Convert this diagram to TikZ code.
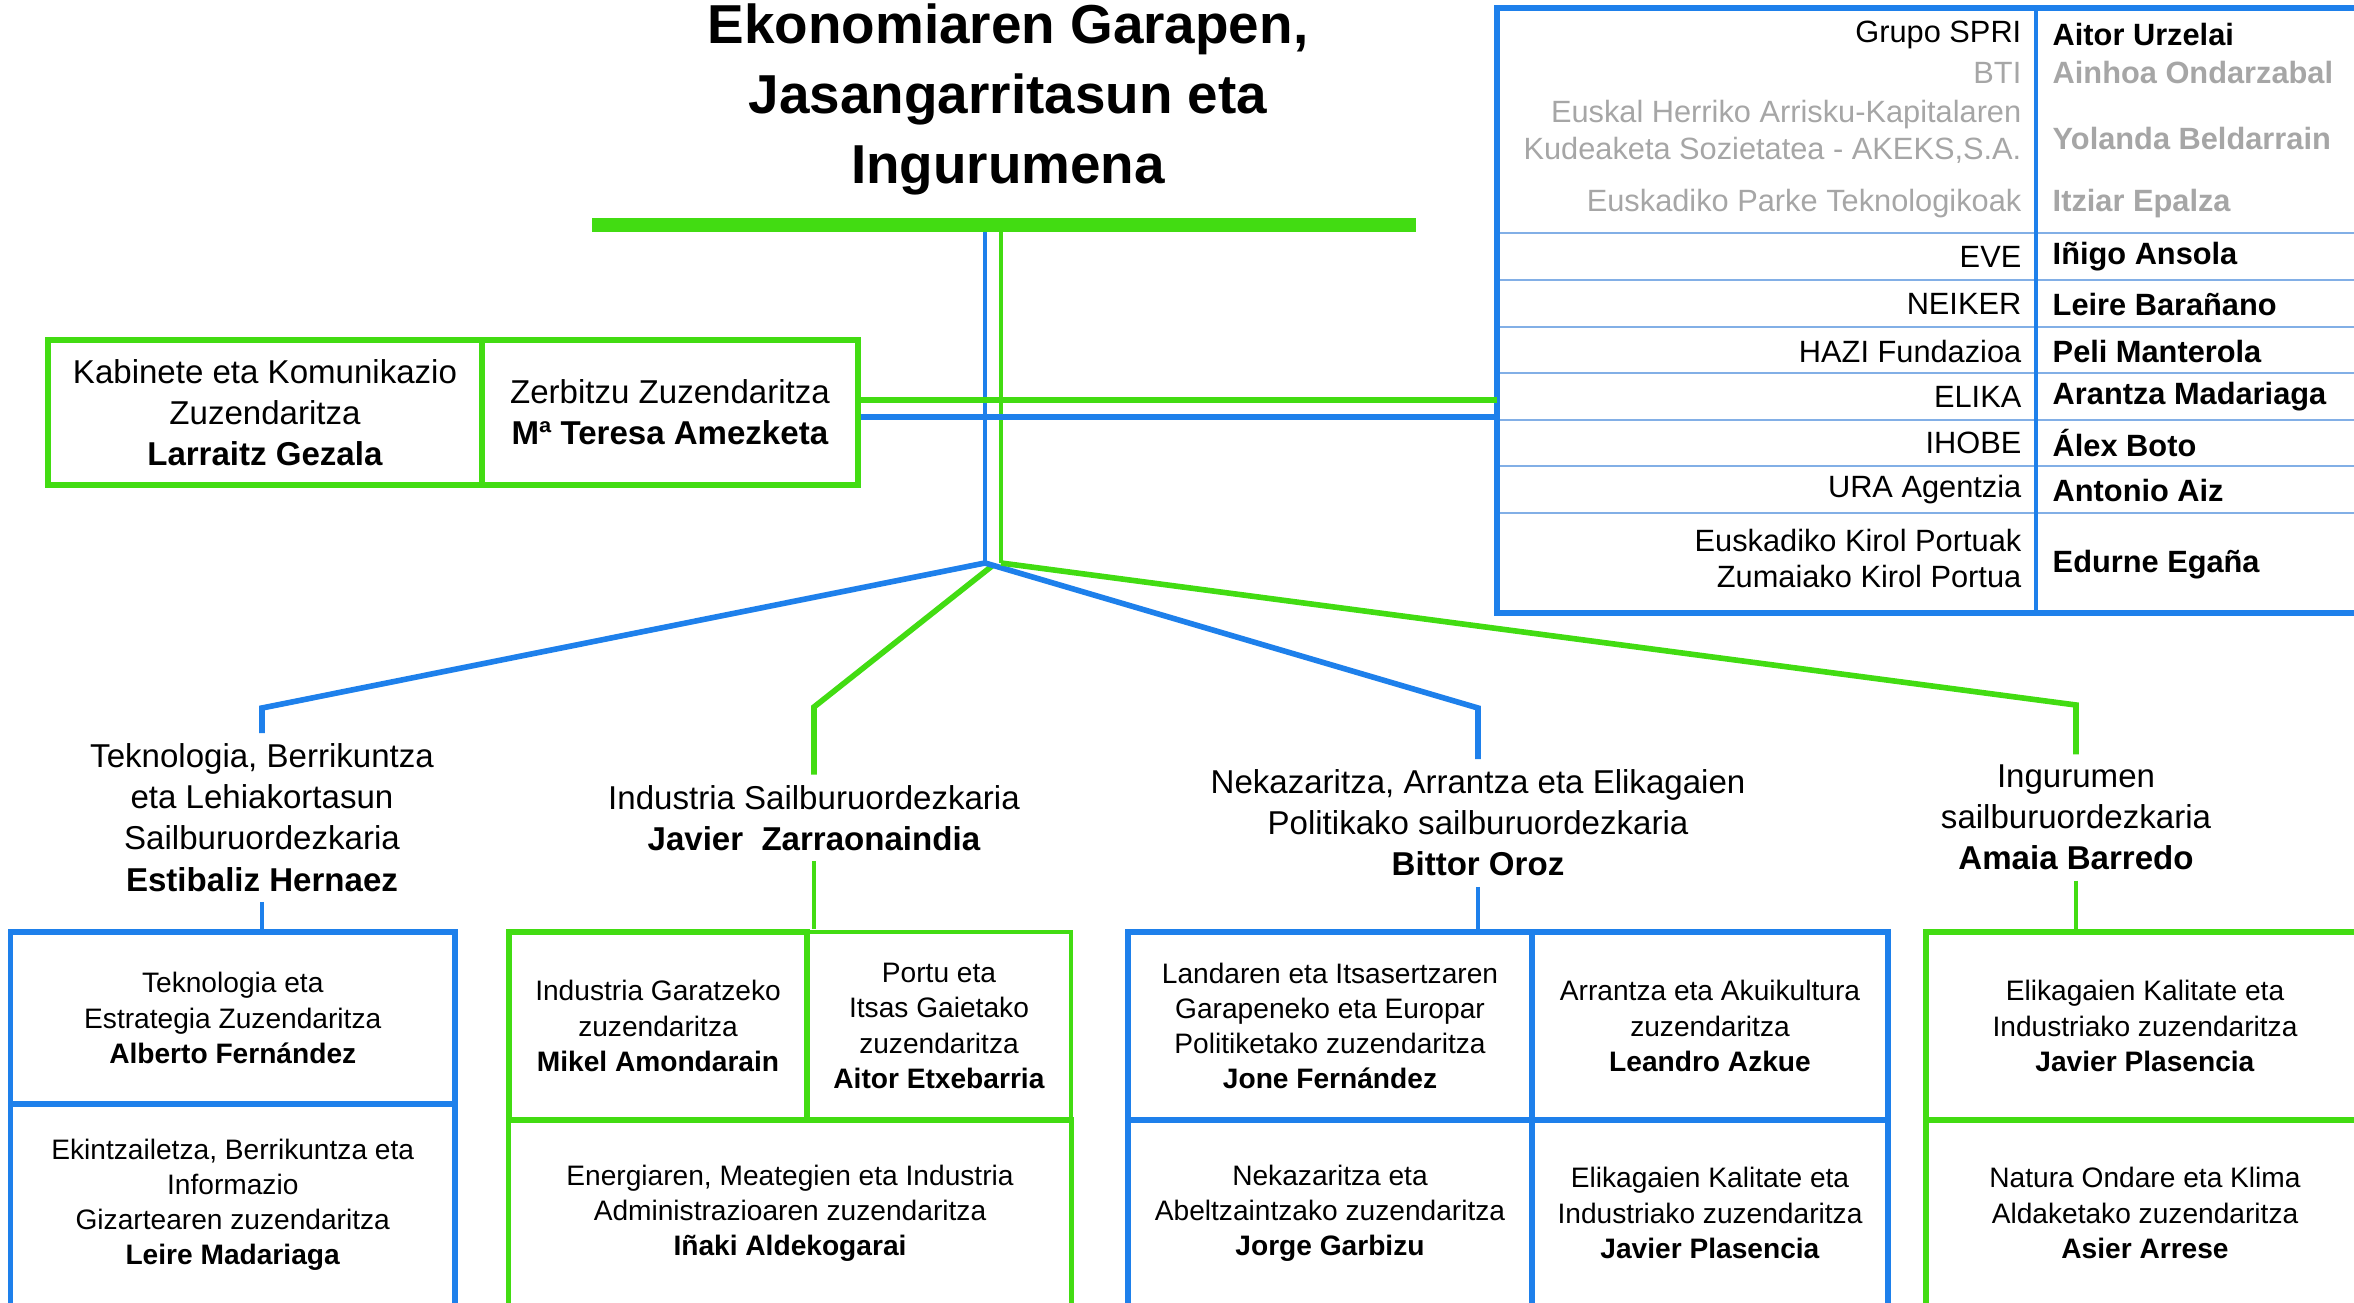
\documentclass[tikz,border=0pt]{standalone}
\usepackage{fontspec}
\setmainfont{Liberation Sans}
\usetikzlibrary{calc}
\definecolor{urdin}{RGB}{30,128,235}
\definecolor{berde}{RGB}{66,220,18}
\definecolor{grisa}{RGB}{166,166,166}
\definecolor{lerro}{RGB}{130,175,230}

\begin{document}
\begin{tikzpicture}[x=0.01cm,y=-0.01cm,
  every node/.style={inner sep=0pt},
  blue line/.style={draw=urdin,line width=1.6pt},
  green line/.style={draw=berde,line width=1.6pt},
  midtext/.style={align=center,font=\fontsize{9.4}{11.7}\selectfont},
  vlabel/.style={midtext,inner ysep=2.8pt},
  taborg/.style={anchor=east,align=right,font=\fontsize{8.75}{10.5}\selectfont},
  tabname/.style={anchor=west,font=\fontsize{8.75}{10.5}\selectfont\bfseries},
  cell/.style={rectangle,align=center,font=\fontsize{8}{10}\selectfont},
  bluecell/.style={cell,draw=urdin,line width=1.5pt},
  greencell/.style={cell,draw=berde,line width=1.5pt}]

\clip (0,0) rectangle (2354,1303);

% title and top bar
\node (title) [align=center,font=\fontsize{15.6}{19.9}\selectfont\bfseries] at (1008,99) {Ekonomiaren Garapen,\\Jasangarritasun eta\\Ingurumena};

\coordinate (barL) at (592,225);
\coordinate (barR) at (1416,225);
\coordinate (jb) at (985,563);
\coordinate (jg) at (1001,563);
\coordinate (jg2) at (992,566);

\draw[blue line,line width=1.4pt] (jb |- barL) -- (jb);
\draw[green line,line width=1.4pt] (jg |- barL) -- (jg);
\draw[berde,line width=3.7pt] (barL) -- (barR);

% cabinet
\node (kabinete) [midtext,draw=berde,line width=1.5pt,minimum width=4.34cm,minimum height=1.45cm] at (265,412.5) {Kabinete eta Komunikazio\\Zuzendaritza\\\textbf{Larraitz Gezala}};
\node (zerbitzu) [midtext,draw=berde,line width=1.5pt,minimum width=3.76cm,minimum height=1.45cm] at (670,412.5) {Zerbitzu Zuzendaritza\\\textbf{Mª Teresa Amezketa}};

% public companies table
\node (tbl) [minimum width=8.82cm,minimum height=6.03cm] at (1939,310.5) {};
\coordinate (col) at (2036,0);
\draw[lerro,line width=0.7pt] (tbl.west |- 0,233) -- (tbl.east |- 0,233);
\draw[lerro,line width=0.7pt] (tbl.west |- 0,280) -- (tbl.east |- 0,280);
\draw[lerro,line width=0.7pt] (tbl.west |- 0,327) -- (tbl.east |- 0,327);
\draw[lerro,line width=0.7pt] (tbl.west |- 0,373) -- (tbl.east |- 0,373);
\draw[lerro,line width=0.7pt] (tbl.west |- 0,420) -- (tbl.east |- 0,420);
\draw[lerro,line width=0.7pt] (tbl.west |- 0,466) -- (tbl.east |- 0,466);
\draw[lerro,line width=0.7pt] (tbl.west |- 0,513) -- (tbl.east |- 0,513);
\draw[urdin,line width=1.1pt] (col |- tbl.north) -- (col |- tbl.south);
\draw[urdin,line width=1.6pt] (tbl.north west) rectangle (tbl.south east);

\node (spri) [taborg] at (2022,35) {Grupo SPRI};
\node (spriN) [tabname] at (2052,35) {Aitor Urzelai};
\node (bti) [taborg,text=grisa] at (2022,73) {BTI};
\node (btiN) [tabname,text=grisa] at (2052,73) {Ainhoa Ondarzabal};
\node (akeks) [taborg,text=grisa] at (2022,131.5) {Euskal Herriko Arrisku-Kapitalaren\\Kudeaketa Sozietatea - AKEKS,S.A.};
\node (akeksN) [tabname,text=grisa] at (2052,138) {Yolanda Beldarrain};
\node (parke) [taborg,text=grisa] at (2022,204) {Euskadiko Parke Teknologikoak};
\node (parkeN) [tabname,text=grisa] at (2052,204) {Itziar Epalza};
\node (eve) [taborg] at (2022,257) {EVE};
\node (eveN) [tabname] at (2052,257) {Iñigo Ansola};
\node (neiker) [taborg] at (2022,304) {NEIKER};
\node (neikerN) [tabname] at (2052,304) {Leire Barañano};
\node (hazi) [taborg] at (2022,351) {HAZI Fundazioa};
\node (haziN) [tabname] at (2052,351) {Peli Manterola};
\node (elika) [taborg] at (2022,397) {ELIKA};
\node (elikaN) [tabname] at (2052,397) {Arantza Madariaga};
\node (ihobe) [taborg] at (2022,443) {IHOBE};
\node (ihobeN) [tabname] at (2052,443) {Álex Boto};
\node (ura) [taborg] at (2022,490) {URA Agentzia};
\node (uraN) [tabname] at (2052,490) {Antonio Aiz};
\node (kirol) [taborg] at (2022,558.5) {Euskadiko Kirol Portuak\\Zumaiako Kirol Portua};
\node (kirolN) [tabname] at (2052,565) {Edurne Egaña};

\coordinate (gL) at ($(zerbitzu.east)+(0,-12.5)$);
\coordinate (bL) at ($(zerbitzu.east)+(0,4.5)$);
\draw[green line] (gL) -- (gL -| tbl.west);
\draw[blue line] (bL) -- (bL -| tbl.west);

% vice-ministries
\node (tek) [vlabel] at (262,817.5) {Teknologia, Berrikuntza\\eta Lehiakortasun\\Sailburuordezkaria\\\textbf{Estibaliz Hernaez}};
\node (ind) [vlabel] at (814,818) {Industria Sailburuordezkaria\\\textbf{Javier\ \ Zarraonaindia}};
\node (nek) [vlabel] at (1478,823) {Nekazaritza, Arrantza eta Elikagaien\\Politikako sailburuordezkaria\\\textbf{Bittor Oroz}};
\node (ing) [vlabel] at (2076,817.5) {Ingurumen\\sailburuordezkaria\\\textbf{Amaia Barredo}};

\coordinate (tekc) at (262,708);
\coordinate (indc) at (814,707);
\coordinate (nekc) at (1478,708);
\coordinate (ingc) at (2076,705);

\draw[blue line] (jb) -- (tekc) -- (tek.north);
\draw[green line] (jg2) -- (indc) -- (ind.north);
\draw[blue line] (jb) -- (nekc) -- (nek.north);
\draw[green line] (jg) -- (ingc) -- (ing.north);

% directorates
\node (tekA) [bluecell,minimum width=4.445cm,minimum height=1.72cm] at (232.75,1018) {Teknologia eta\\Estrategia Zuzendaritza\\\textbf{Alberto Fernández}};
\node (tekB) [bluecell,minimum width=4.445cm,minimum height=2.02cm] at (232.75,1205) {Ekintzailetza, Berrikuntza eta\\Informazio\\Gizartearen zuzendaritza\\\textbf{Leire Madariaga}};

\node (indA) [greencell,minimum width=2.98cm,minimum height=1.88cm] at (658,1026) {Industria Garatzeko\\zuzendaritza\\\textbf{Mikel Amondarain}};
\node (indB) [greencell,line width=1.1pt,minimum width=2.64cm,minimum height=1.88cm] at (939,1026) {Portu eta\\Itsas Gaietako\\zuzendaritza\\\textbf{Aitor Etxebarria}};
\node (indC) [greencell,minimum width=5.62cm,minimum height=1.86cm] at (790,1213) {Energiaren, Meategien eta Industria\\Administrazioaren zuzendaritza\\\textbf{Iñaki Aldekogarai}};

\node (nekA) [bluecell,minimum width=4.04cm,minimum height=1.88cm] at (1330,1026) {Landaren eta Itsasertzaren\\Garapeneko eta Europar\\Politiketako zuzendaritza\\\textbf{Jone Fernández}};
\node (nekB) [bluecell,minimum width=3.56cm,minimum height=1.88cm] at (1710,1026) {Arrantza eta Akuikultura\\zuzendaritza\\\textbf{Leandro Azkue}};
\node (nekC) [bluecell,minimum width=4.04cm,minimum height=1.86cm] at (1330,1213) {Nekazaritza eta\\Abeltzaintzako zuzendaritza\\\textbf{Jorge Garbizu}};
\node (nekD) [bluecell,minimum width=3.56cm,minimum height=1.86cm] at (1710,1213) {Elikagaien Kalitate eta\\Industriako zuzendaritza\\\textbf{Javier Plasencia}};

\node (ingA) [greencell,minimum width=4.38cm,minimum height=1.88cm] at (2145,1026) {Elikagaien Kalitate eta\\Industriako zuzendaritza\\\textbf{Javier Plasencia}};
\node (ingB) [greencell,minimum width=4.38cm,minimum height=1.86cm] at (2145,1213) {Natura Ondare eta Klima\\Aldaketako zuzendaritza\\\textbf{Asier Arrese}};

\draw[blue line,line width=1.4pt] (tek.south) -- (tek.south |- tekA.north);
\draw[green line,line width=1.4pt] (ind.south) -- (ind.south |- indA.north);
\draw[blue line,line width=1.4pt] (nek.south) -- (nek.south |- nekA.north);
\draw[green line,line width=1.4pt] (ing.south) -- (ing.south |- ingA.north);

\end{tikzpicture}
\end{document}
